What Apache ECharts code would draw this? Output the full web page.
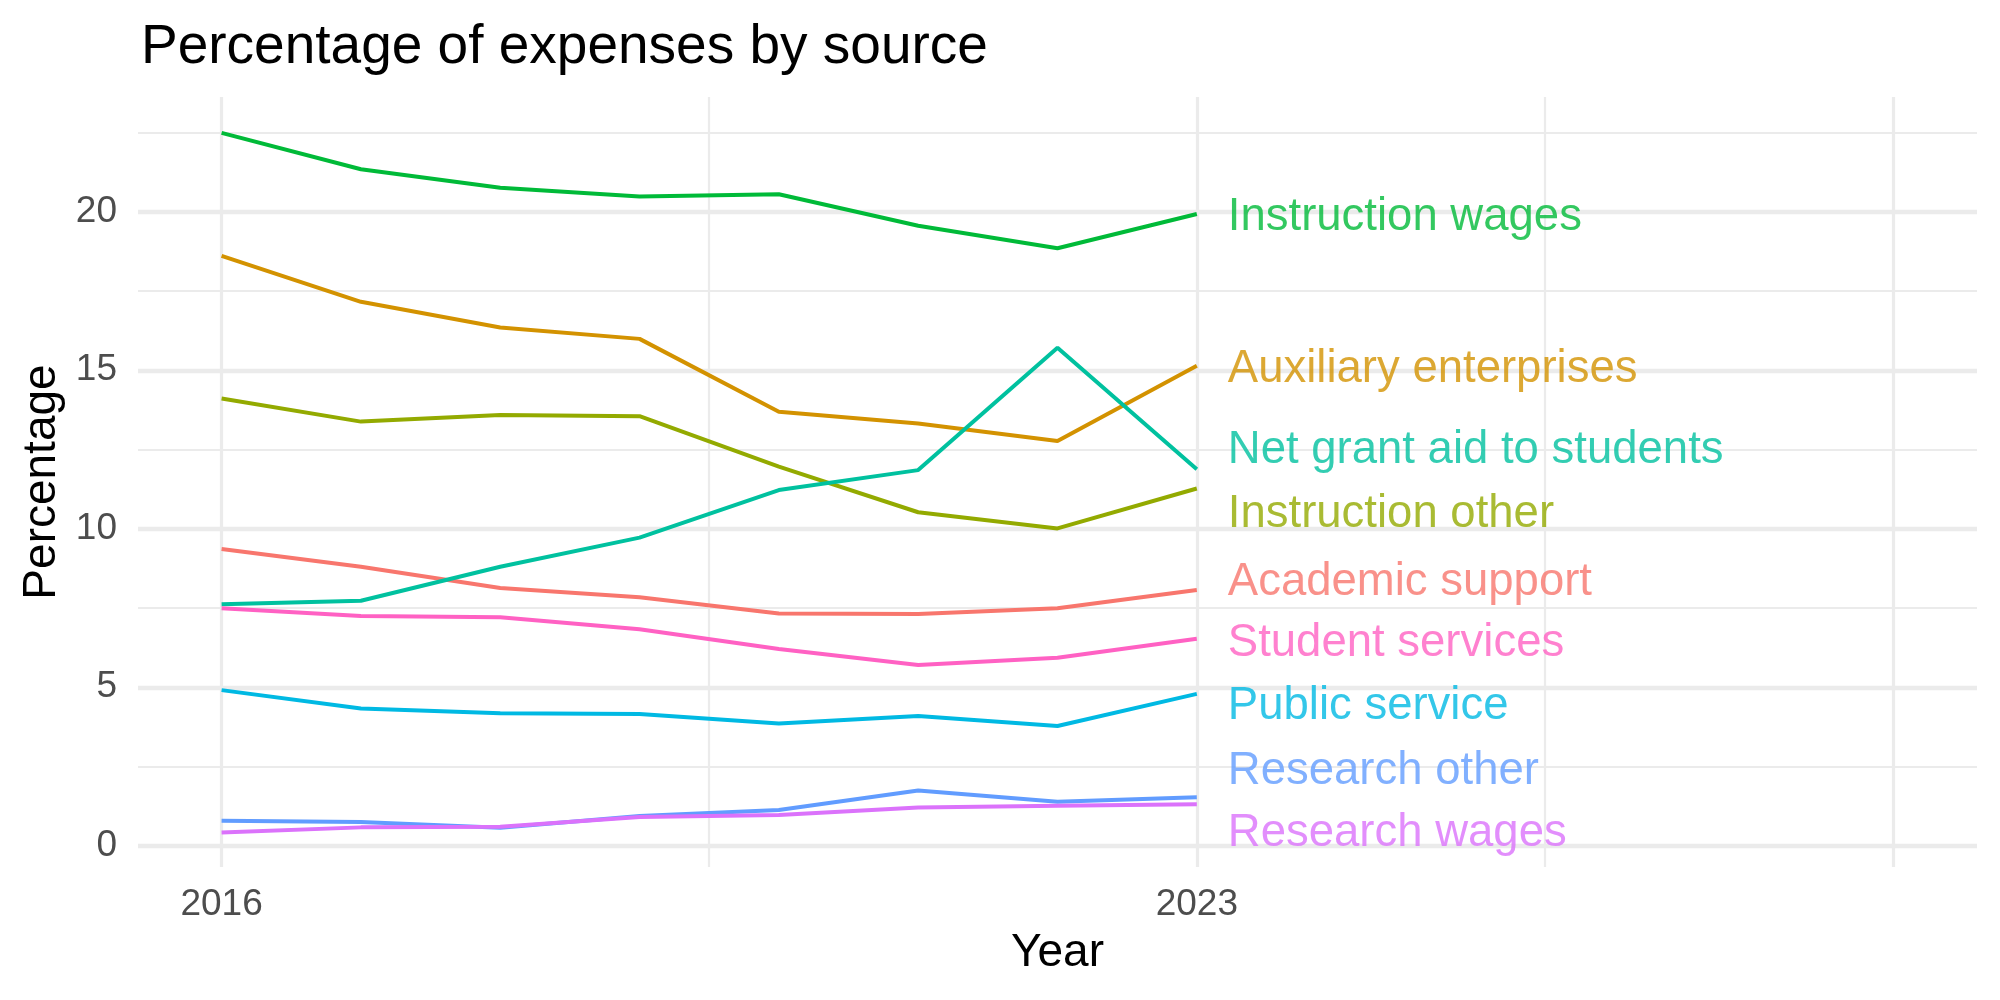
<!DOCTYPE html>
<html>
<head>
<meta charset="utf-8">
<title>Percentage of expenses by source</title>
<script src="https://cdn.jsdelivr.net/npm/echarts@6/dist/echarts.min.js"></script>
<style>
  html, body { margin: 0; padding: 0; background: #fff; }
  #chart { width: 2000px; height: 1000px; }
</style>
</head>
<body>
<div id="chart"></div>
<script>
// data
const years = [2016, 2017, 2018, 2019, 2020, 2021, 2022, 2023]
const sources = [
  'Academic support', 'Auxiliary enterprises', 'Instruction other', 'Instruction wages',
  'Net grant aid to students', 'Public service', 'Research other', 'Research wages', 'Student services'
]
const academicSupport = [9.36, 8.80, 8.13, 7.84, 7.33, 7.31, 7.49, 8.07]
const auxiliaryEnterprises = [18.61, 17.16, 16.35, 15.99, 13.69, 13.32, 12.77, 15.14]
const instructionOther = [14.11, 13.38, 13.59, 13.55, 11.96, 10.52, 10.01, 11.27]
const instructionWages = [22.49, 21.34, 20.76, 20.48, 20.55, 19.56, 18.85, 19.93]
const netGrantAid = [7.62, 7.73, 8.80, 9.72, 11.22, 11.85, 15.71, 11.88]
const publicService = [4.91, 4.33, 4.18, 4.16, 3.86, 4.09, 3.78, 4.79]
const researchOther = [0.79, 0.75, 0.57, 0.94, 1.13, 1.74, 1.39, 1.53]
const researchWages = [0.42, 0.58, 0.60, 0.91, 0.97, 1.21, 1.26, 1.31]
const studentServices = [7.49, 7.25, 7.21, 6.83, 6.21, 5.70, 5.93, 6.53]
// where the (repelled) end labels sit, in percentage units
const labelY = [8.41, 15.12, 10.56, 19.9, 12.55, 4.48, 2.43, 0.47, 6.47]
// axis breaks
const xLabels = [2016, 2023]
const xMajor = [2016, 2023, 2028]
const xMinor = [2019.5, 2025.5]
const yMajor = [0, 5, 10, 15, 20]
const yMinor = [2.5, 7.5, 12.5, 17.5, 22.5]

const values = [
  academicSupport, auxiliaryEnterprises, instructionOther, instructionWages,
  netGrantAid, publicService, researchOther, researchWages, studentServices
]
const colors = ['#F8766D', '#D39200', '#93AA00', '#00BA38', '#00C19F', '#00B9E3', '#619CFF', '#DB72FB', '#FF61C3']

const font = 'Liberation Sans, Arial, Helvetica, sans-serif'
const gridColor = '#EBEBEB'

const chart = echarts.init(document.getElementById('chart'), null, { renderer: 'canvas' })

const gridLines = []
yMajor.forEach(v => gridLines.push({ yAxis: v, lineStyle: { width: 4.3 } }))
yMinor.forEach(v => gridLines.push({ yAxis: v, lineStyle: { width: 2.2 } }))
xMajor.forEach(v => gridLines.push({ xAxis: v, lineStyle: { width: 3.2 } }))
xMinor.forEach(v => gridLines.push({ xAxis: v, lineStyle: { width: 2.2 } }))

const series = [
  {
    // background grid, kept under everything else
    type: 'line',
    data: [],
    z: 0,
    silent: true,
    markLine: {
      z: 0,
      silent: true,
      symbol: 'none',
      animation: false,
      label: { show: false },
      emphasis: { disabled: true },
      lineStyle: { color: gridColor, type: 'solid' },
      data: gridLines
    }
  }
]
sources.forEach((name, i) => {
  series.push({
    name: name,
    type: 'line',
    z: 2,
    showSymbol: false,
    animation: false,
    lineStyle: { color: colors[i], width: 4 },
    itemStyle: { color: colors[i] },
    data: years.map((y, j) => [y, values[i][j]])
  })
})
series.push({
  // text labels at the end of each line
  type: 'scatter',
  z: 6,
  symbolSize: 0,
  animation: false,
  silent: true,
  label: {
    show: true,
    position: 'right',
    distance: 31,
    offset: [0, 3],
    fontFamily: font,
    fontSize: 45.5,
    formatter: p => p.name
  },
  data: sources.map((name, i) => ({
    name: name,
    value: [years[years.length - 1], labelY[i]],
    label: { color: colors[i] }
  }))
})

chart.setOption({
  backgroundColor: '#fff',
  animation: false,
  title: {
    text: 'Percentage of expenses by source',
    left: 136,
    top: 15,
    textStyle: { fontFamily: font, fontSize: 55, fontWeight: 'normal', color: '#000' }
  },
  grid: { left: 138, right: 23, top: 97, bottom: 133, containLabel: false },
  xAxis: {
    type: 'value',
    min: 2015.4,
    max: 2028.6,
    name: 'Year',
    nameLocation: 'middle',
    nameGap: 63,
    nameTextStyle: { fontFamily: font, fontSize: 46, color: '#000' },
    axisLine: { show: false },
    axisTick: { show: false },
    splitLine: { show: false },
    axisLabel: {
      customValues: xLabels,
      formatter: v => String(v),
      margin: 19,
      fontFamily: font,
      fontSize: 37,
      color: '#4D4D4D'
    }
  },
  yAxis: {
    type: 'value',
    min: -0.67,
    max: 23.62,
    name: 'Percentage',
    nameLocation: 'middle',
    nameRotate: 90,
    nameGap: 73,
    nameTextStyle: { fontFamily: font, fontSize: 46, color: '#000' },
    axisLine: { show: false },
    axisTick: { show: false },
    splitLine: { show: false },
    axisLabel: {
      customValues: yMajor,
      margin: 21,
      fontFamily: font,
      fontSize: 37,
      color: '#4D4D4D'
    }
  },
  series: series
})
</script>
</body>
</html>
